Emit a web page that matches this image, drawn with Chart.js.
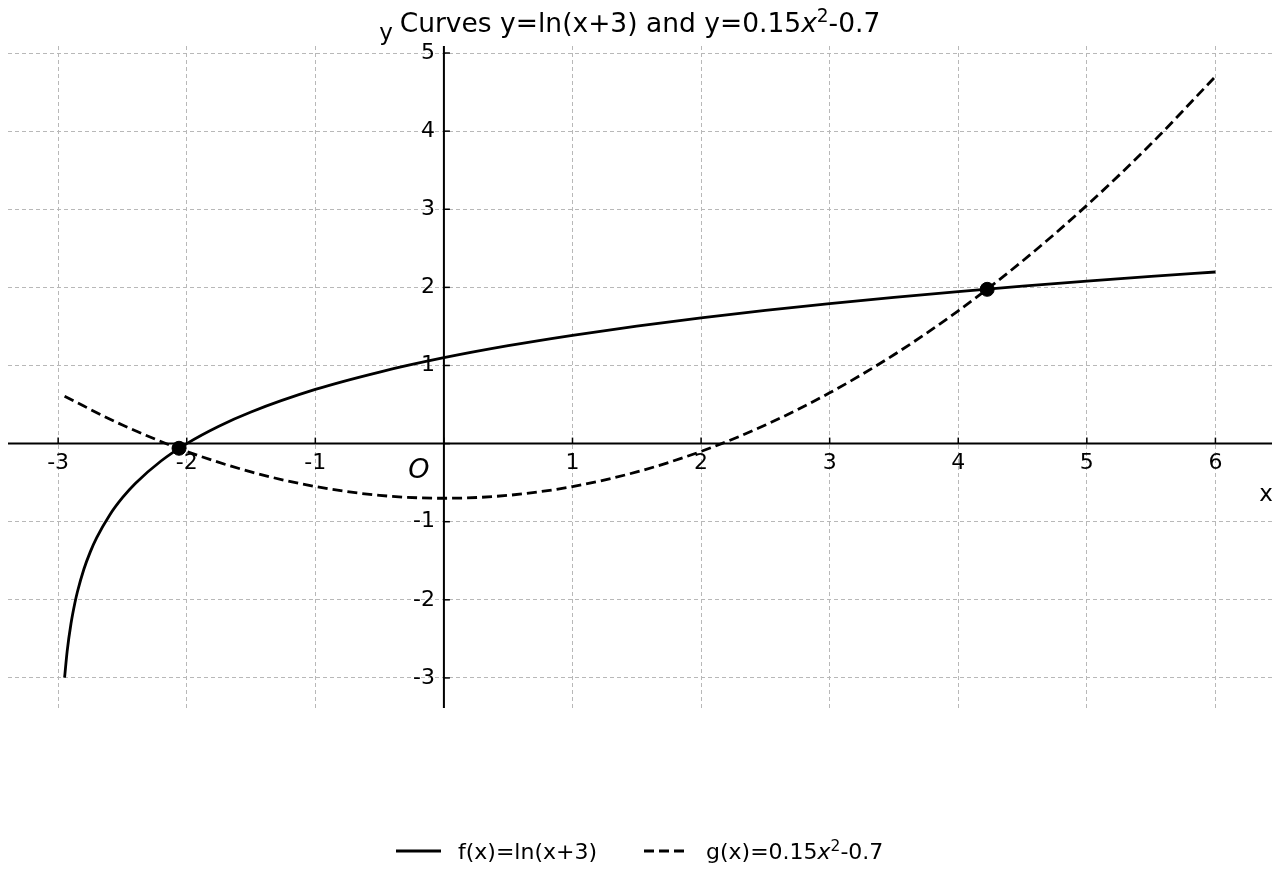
<!DOCTYPE html>
<html>
<head>
<meta charset="utf-8">
<script src="https://cdn.jsdelivr.net/npm/chart.js@4.4.0/dist/chart.umd.min.js"></script>
<style>
  html, body { margin: 0; padding: 0; background: #fff; }
</style>
</head>
<body>
<canvas id="chart" width="1280" height="880"></canvas>
<script>
/* Curves y=ln(x+3) and y=0.15x^2-0.7 */

const fX = [-2.95, -2.93, -2.9, -2.87, -2.85, -2.8, -2.75, -2.7, -2.6, -2.5, -2.4, -2.2, -2.0, -1.75, -1.5, -1.0, -0.5, 0, 0.5, 1, 1.5, 2, 2.5, 3, 3.5, 4, 4.5, 5, 5.5, 6];
const fY = [-2.996, -2.659, -2.303, -2.040, -1.897, -1.609, -1.386, -1.204, -0.916, -0.693, -0.511, -0.223, 0, 0.223, 0.405, 0.693, 0.916, 1.099, 1.253, 1.386, 1.504, 1.609, 1.705, 1.792, 1.872, 1.946, 2.015, 2.079, 2.140, 2.197];

const gX = [-2.95, -2.5, -2.0, -1.5, -1.0, -0.5, 0, 0.5, 1, 1.5, 2, 2.5, 3, 3.5, 4, 4.5, 5, 5.5, 6];
const gY = [0.605, 0.2375, -0.1, -0.3625, -0.55, -0.6625, -0.7, -0.6625, -0.55, -0.3625, -0.1, 0.2375, 0.65, 1.1375, 1.7, 2.3375, 3.05, 3.8375, 4.7];

const crossX = [-2.06, 4.225];
const crossY = [-0.06, 1.975];

const xTicks = [-3, -2, -1, 0, 1, 2, 3, 4, 5, 6];
const yTicks = [-3, -2, -1, 0, 1, 2, 3, 4, 5];

const FONT = '"DejaVu Sans", sans-serif';

const toPoints = (xs, ys) => xs.map((x, i) => ({ x, y: ys[i] }));

// draws text made of parts: {t, it (italic), sup (superscript)}
function drawRich(ctx, parts, x, y, size, align) {
  const fontFor = p => (p.it ? 'italic ' : '') + (p.sup ? size * 0.7 : size) + 'px ' + FONT;
  let total = 0;
  parts.forEach(p => { ctx.font = fontFor(p); total += ctx.measureText(p.t).width; });
  let cx = align === 'center' ? x - total / 2 : x;
  ctx.textAlign = 'left';
  ctx.textBaseline = 'alphabetic';
  parts.forEach(p => {
    ctx.font = fontFor(p);
    ctx.fillText(p.t, cx, p.sup ? y - size * 0.38 : y);
    cx += ctx.measureText(p.t).width;
  });
}

const axesPlugin = {
  id: 'centeredAxes',
  beforeDatasetsDraw(chart) {
    const { ctx, chartArea: a, scales: { x, y } } = chart;
    const x0 = x.getPixelForValue(0);
    const y0 = y.getPixelForValue(0);
    ctx.save();
    ctx.strokeStyle = '#000';
    ctx.lineWidth = 2;
    ctx.beginPath();
    ctx.moveTo(a.left, y0); ctx.lineTo(a.right, y0);
    ctx.moveTo(x0, a.top); ctx.lineTo(x0, a.bottom);
    ctx.stroke();

    ctx.lineWidth = 1.5;
    ctx.fillStyle = '#000';
    ctx.font = '22px ' + FONT;
    xTicks.forEach(v => {
      const px = x.getPixelForValue(v);
      ctx.beginPath(); ctx.moveTo(px, y0); ctx.lineTo(px, y0 - 6); ctx.stroke();
      if (v === 0) return;
      ctx.textAlign = 'center'; ctx.textBaseline = 'top';
      ctx.fillText(String(v), px, y0 + 9);
    });
    yTicks.forEach(v => {
      const py = y.getPixelForValue(v);
      ctx.beginPath(); ctx.moveTo(x0, py); ctx.lineTo(x0 + 6, py); ctx.stroke();
      if (v === 0) return;
      ctx.textAlign = 'right'; ctx.textBaseline = 'middle';
      ctx.fillText(String(v), x0 - 9, py);
    });

    ctx.textAlign = 'center'; ctx.textBaseline = 'middle';
    ctx.font = 'italic 27px ' + FONT;
    ctx.fillText('O', x0 - 25, y0 + 27);
    ctx.font = '23px ' + FONT;
    ctx.fillText('x', 1266, 495);
    ctx.fillText('y', 386, 34);
    ctx.restore();
  },
  afterDraw(chart) {
    const { ctx } = chart;
    ctx.save();
    ctx.fillStyle = '#000';
    drawRich(ctx, [
      { t: 'Curves y=ln(x+3) and y=0.15' }, { t: 'x', it: true }, { t: '2', sup: true }, { t: '-0.7' }
    ], 640, 32, 26.5, 'center');

    // legend
    const ly = 851;
    ctx.strokeStyle = '#000';
    ctx.lineWidth = 2.8;
    ctx.beginPath(); ctx.moveTo(396, ly); ctx.lineTo(441, ly); ctx.stroke();
    ctx.setLineDash([10, 5]);
    ctx.beginPath(); ctx.moveTo(644, ly); ctx.lineTo(688, ly); ctx.stroke();
    ctx.setLineDash([]);
    drawRich(ctx, [{ t: chart.data.datasets[0].label }], 458, ly + 8, 22, 'left');
    drawRich(ctx, [{ t: 'g(x)=0.15' }, { t: 'x', it: true }, { t: '2', sup: true }, { t: '-0.7' }], 706, ly + 8, 22, 'left');
    ctx.restore();
  }
};

const gridStyle = { color: '#b8b8b8', lineWidth: 1, drawTicks: false };

new Chart(document.getElementById('chart'), {
  type: 'scatter',
  data: {
    datasets: [
      {
        label: 'f(x)=ln(x+3)',
        data: toPoints(fX, fY),
        showLine: true,
        borderColor: '#000',
        borderWidth: 2.8,
        pointRadius: 0,
        cubicInterpolationMode: 'monotone'
      },
      {
        label: 'g(x)=0.15x²-0.7',
        data: toPoints(gX, gY),
        showLine: true,
        borderColor: '#000',
        borderWidth: 2.8,
        borderDash: [10, 5],
        pointRadius: 0,
        cubicInterpolationMode: 'monotone'
      },
      {
        label: 'intersections',
        data: toPoints(crossX, crossY),
        showLine: false,
        pointRadius: 7,
        pointBackgroundColor: '#000',
        pointBorderColor: '#000'
      }
    ]
  },
  options: {
    responsive: false,
    animation: false,
    devicePixelRatio: 1,
    layout: { padding: { left: 8, right: 7, top: 46, bottom: 172 } },
    plugins: { legend: { display: false }, title: { display: false }, tooltip: { enabled: false } },
    scales: {
      x: {
        type: 'linear',
        min: -3.39,
        max: 6.44,
        afterBuildTicks: s => { s.ticks = xTicks.map(v => ({ value: v })); },
        ticks: { display: false },
        grid: gridStyle,
        border: { display: false, dash: [4, 3] }
      },
      y: {
        type: 'linear',
        min: -3.385,
        max: 5.09,
        afterBuildTicks: s => { s.ticks = yTicks.map(v => ({ value: v })); },
        ticks: { display: false },
        grid: gridStyle,
        border: { display: false, dash: [4, 3] }
      }
    }
  },
  plugins: [axesPlugin]
});
</script>
</body>
</html>
